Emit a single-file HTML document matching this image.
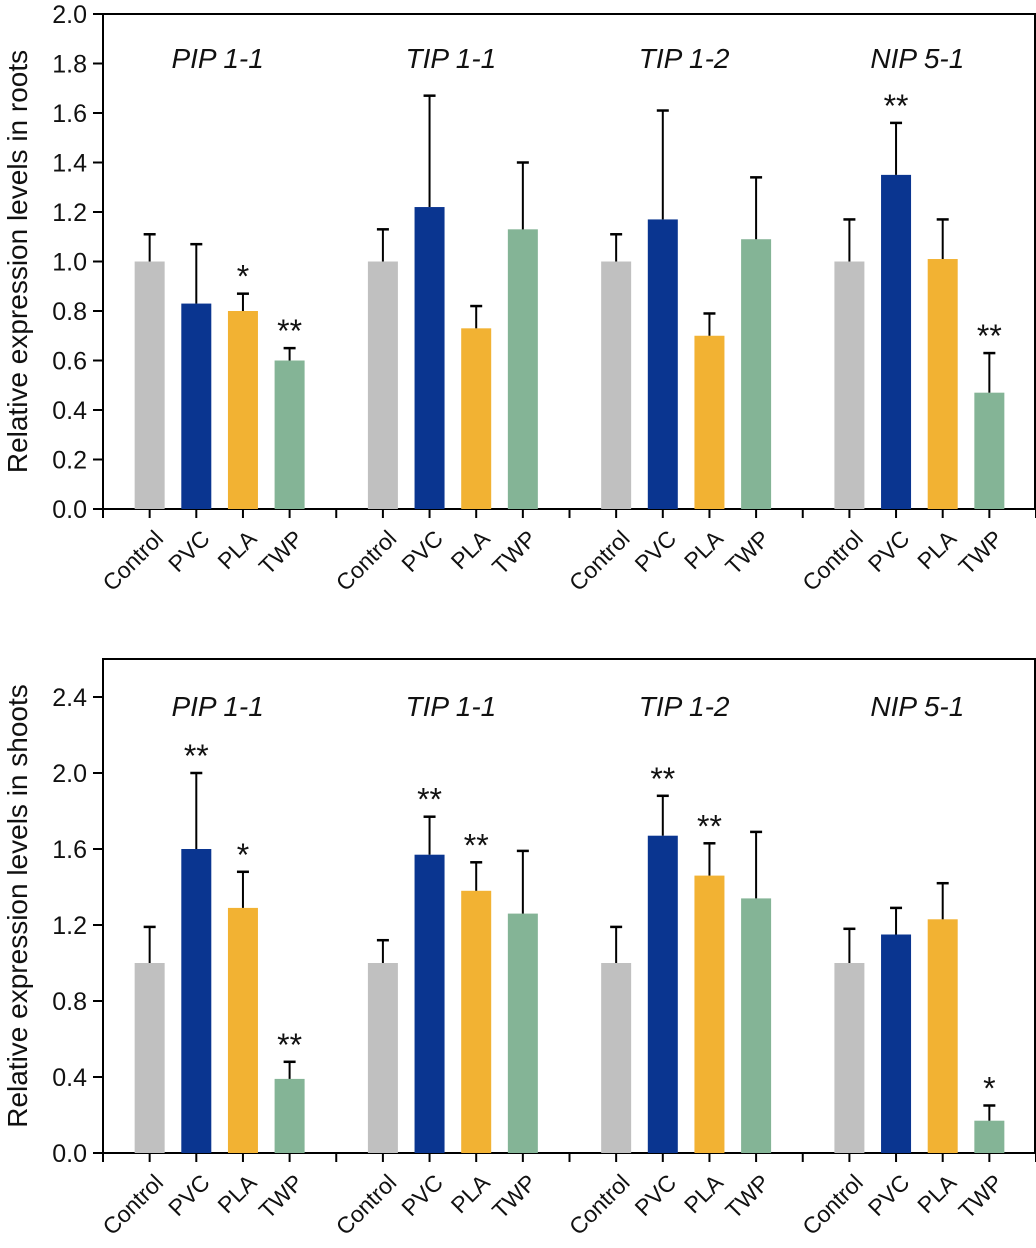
<!DOCTYPE html>
<html><head><meta charset="utf-8"><style>
body{margin:0;background:#fff}
svg{display:block;font-family:"Liberation Sans",Arial,sans-serif}
</style></head><body>
<svg id="c" width="1036" height="1248" viewBox="0 0 1036 1248"></svg>
<script>
const genes=["PIP 1-1","TIP 1-1","TIP 1-2","NIP 5-1"];
const treatments=["Control","PVC","PLA","TWP"];
const colors=["#c0c0c0","#0a3590","#f2b233","#84b496"];
const rootVals=[[1.0,0.83,0.80,0.60],[1.0,1.22,0.73,1.13],[1.0,1.17,0.70,1.09],[1.0,1.35,1.01,0.47]];
const rootErr=[[0.11,0.24,0.07,0.05],[0.13,0.45,0.09,0.27],[0.11,0.44,0.09,0.25],[0.17,0.21,0.16,0.16]];
const rootStars=[["","","*","**"],["","","",""],["","","",""],["","**","","**"]];
const rootTicks=[0,0.2,0.4,0.6,0.8,1.0,1.2,1.4,1.6,1.8,2.0];
const shootVals=[[1.0,1.60,1.29,0.39],[1.0,1.57,1.38,1.26],[1.0,1.67,1.46,1.34],[1.0,1.15,1.23,0.17]];
const shootErr=[[0.19,0.40,0.19,0.09],[0.12,0.20,0.15,0.33],[0.19,0.21,0.17,0.35],[0.18,0.14,0.19,0.08]];
const shootStars=[["","**","*","**"],["","**","**",""],["","**","**",""],["","","","*"]];
const shootTicks=[0,0.4,0.8,1.2,1.6,2.0,2.4];
const svg=document.getElementById('c');const NS="http://www.w3.org/2000/svg";
function mk(t,a,p){const e=document.createElementNS(NS,t);for(const k in a)e.setAttribute(k,a[k]);(p||svg).appendChild(e);return e;}
function panel(name,top,bottom,ymax,vals,errs,stars,ticks,title,boxTop){
  const g=mk('g',{});
  
  
  const L=103,R=1036,step=(R-L)/20;
  const y=v=>bottom-(v/ymax)*(bottom-top);
  const x=i=>L+i*step;
  mk('path',{d:`M${L} ${bottom}V${boxTop}H1035V${bottom}`,stroke:"#000","stroke-width":2,fill:"none"},g);
  const ax=mk('line',{x1:L-1,x2:R,y1:bottom,y2:bottom,stroke:"#000","stroke-width":2},g);
  
  
  for(let i=0;i<=20;i++)mk('line',{x1:x(i),x2:x(i),y1:bottom,y2:bottom+9,stroke:"#000","stroke-width":2},g);
  ticks.forEach(t=>{
    mk('line',{x1:L-10,x2:L,y1:y(t),y2:y(t),stroke:"#000","stroke-width":2},g);
    const tx=mk('text',{x:L-16,y:y(t)+9,"text-anchor":"end","font-size":25,fill:"#111"},g);
    tx.textContent=t.toFixed(1);
    
    
  });
  const yt=mk('text',{transform:`translate(27,${(top+bottom)/2}) rotate(-90)`,"text-anchor":"middle","font-size":28,fill:"#111"},g);
  yt.textContent=title;
  
  
  genes.forEach((gn,gi)=>{
    const gt=mk('text',{x:x(gi*5+2.5)-2,y:top+(name==='roots-panel'?54:57),"text-anchor":"middle","font-size":28,"font-style":"italic",fill:"#111"},g);
    gt.textContent=gn;
    
    
    treatments.forEach((tr,ti)=>{
      const cx=x(gi*5+1+ti),v=vals[gi][ti],e=errs[gi][ti];
      const b=mk('rect',{x:cx-15,y:y(v),width:30,height:bottom-y(v),fill:colors[ti]},g);
      
      
      mk('line',{x1:cx,x2:cx,y1:y(v),y2:y(v+e),stroke:"#000","stroke-width":2},g);
      mk('line',{x1:cx-6,x2:cx+6,y1:y(v+e),y2:y(v+e),stroke:"#000","stroke-width":2.5},g);
      if(stars[gi][ti]){
        const s=mk('text',{x:cx,y:y(v+e)-6,"text-anchor":"middle","font-size":32,fill:"#111"},g);
        s.textContent=stars[gi][ti];
        
        
      }
      const lb=mk('text',{transform:`translate(${cx+15},${bottom+31}) rotate(-45)`,"text-anchor":"end","font-size":23,fill:"#111"},g);
      lb.textContent=tr;
      
      
    });
  });
}
panel('roots-panel',14,509,2.0,rootVals,rootErr,rootStars,rootTicks,'Relative expression levels in roots',14);
panel('shoots-panel',659,1153,2.6,shootVals,shootErr,shootStars,shootTicks,'Relative expression levels in shoots',659);
</script>
</body></html>
